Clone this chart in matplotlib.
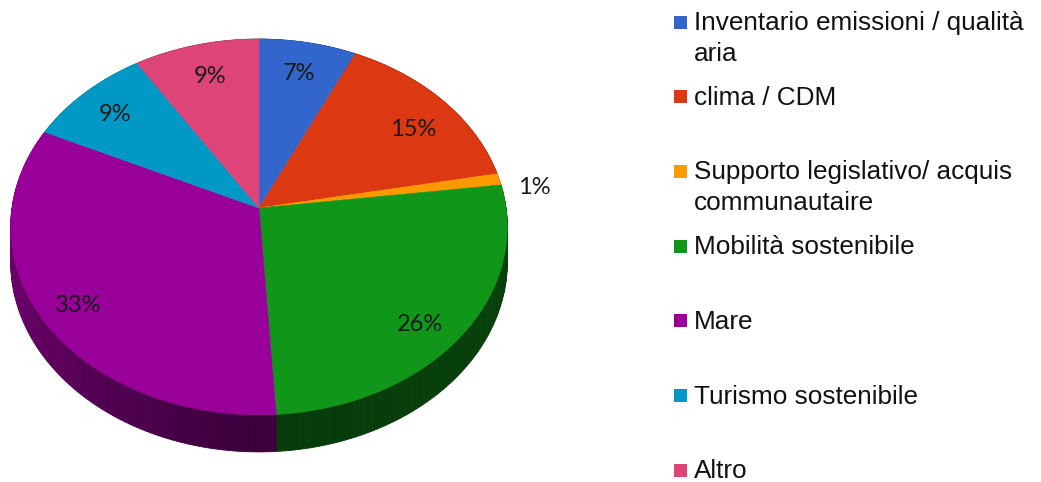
import numpy as np
import matplotlib
matplotlib.use("Agg")
import matplotlib.pyplot as plt
from matplotlib.patches import Polygon, Rectangle
from matplotlib.colors import to_rgb

# Project areas and their shares (%)
categories = [
    "Inventario emissioni / qualità\naria",
    "clima / CDM",
    "Supporto legislativo/ acquis\ncommunautaire",
    "Mobilità sostenibile",
    "Mare",
    "Turismo sostenibile",
    "Altro",
]
shares = [7, 15, 1, 26, 33, 9, 9]
colors = ["#3366CC", "#DC3912", "#FF9900", "#109618", "#990099", "#0099C6", "#DD4477"]

# Small nudges (px) for the percentage labels
label_nudge = [(0, 0), (5, 8), (0, 12), (0, 17), (-10, 10), (-3, 0), (2, 1)]

W, H = 1041, 482
fig = plt.figure(figsize=(W / 100, H / 100), dpi=100)
ax = fig.add_axes([0, 0, 1, 1])
ax.set_xlim(0, W)
ax.set_ylim(H, 0)
ax.axis("off")

# Tilted-disc geometry (pixel units)
CX, CY = 259, 208
RX, RY = 247, 186
K = 0.101      # perspective strength
DEPTH = 35     # thickness of the disc


def project(theta, r=1.0):
    u = r * np.sin(theta)
    v = r * np.cos(theta)
    den = 1 + K * v
    return CX + RX * u / den, CY - RY * v / den


def thickness(theta):
    return DEPTH - 2 * np.cos(theta)


def side_shade(theta):
    s = np.sin(theta)
    return 0.39 + 0.30 * max(0.0, -s) ** 1.3 + 0.04 * max(0.0, s)


total = float(sum(shares))
bounds = np.concatenate([[0], np.cumsum(shares)]) / total * 2 * np.pi

# Side wall, drawn in thin strips so the shading can vary along the rim
for (a0, a1), col in zip(zip(bounds[:-1], bounds[1:]), colors):
    base = np.array(to_rgb(col))
    n = max(2, int(np.degrees(a1 - a0)))
    ts = np.linspace(a0, a1, n + 1)
    for t0, t1 in zip(ts[:-1], ts[1:]):
        x0, y0 = project(t0)
        x1, y1 = project(t1)
        c = np.clip(base * side_shade(0.5 * (t0 + t1)), 0, 1)
        ax.add_patch(Polygon(
            [(x0, y0), (x1, y1), (x1, y1 + thickness(t1)), (x0, y0 + thickness(t0))],
            closed=True, facecolor=c, edgecolor=c, linewidth=0.6, zorder=1))

# Top face of each slice
for (a0, a1), col in zip(zip(bounds[:-1], bounds[1:]), colors):
    ts = np.linspace(a0, a1, max(3, int(np.degrees(a1 - a0) * 2)))
    xs, ys = project(ts)
    pts = [(CX, CY)] + list(zip(xs, ys))
    ax.add_patch(Polygon(pts, closed=True, facecolor=col, edgecolor=col,
                         linewidth=0.4, zorder=2))

# Percentage labels
for (a0, a1), val, (dx, dy) in zip(zip(bounds[:-1], bounds[1:]), shares, label_nudge):
    mid = 0.5 * (a0 + a1)
    r = 0.8 if val >= 3 else 1.15
    lx, ly = project(mid, r)
    ax.text(lx + dx, ly + dy, f"{val}%", ha="center", va="center", fontsize=17,
            family="Lato", color="#1a1a1a", zorder=5)

# Legend
LX, LY0, LDY, SQ, LINE = 674, 22, 74.7, 13, 31
for i, (name, col) in enumerate(zip(categories, colors)):
    yc = LY0 + i * LDY
    ax.add_patch(Rectangle((LX, yc - SQ / 2), SQ, SQ, facecolor=col,
                           edgecolor="none", zorder=3))
    for j, line in enumerate(name.split("\n")):
        ax.text(LX + 20, yc + 8 + j * LINE, line, ha="left", va="baseline",
                fontsize=18.8, family="Liberation Sans", color="#111111")

fig.savefig("out.png", dpi=100)
